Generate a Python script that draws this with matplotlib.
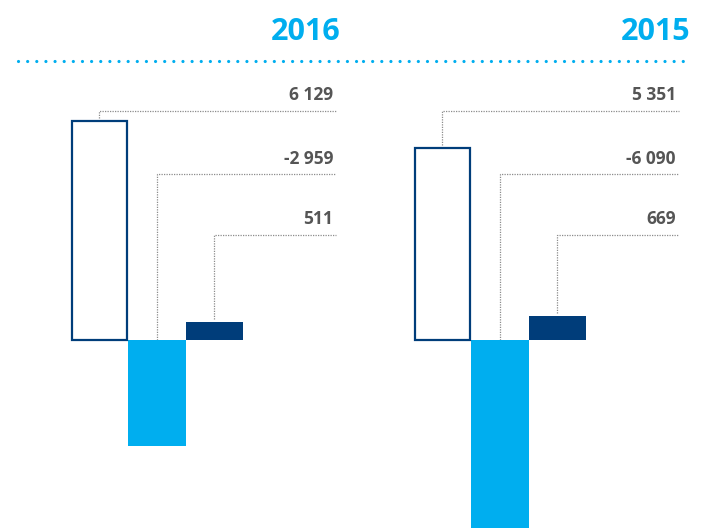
import matplotlib.pyplot as plt

# Values per year: opening balance, change, closing balance
years = ["2016", "2015"]
opening = [6129, 5351]
change = [-2959, -6090]
closing = [511, 669]

NAVY = "#003D7A"
CYAN = "#00AEEF"
GREY_TXT = "#555555"
GREY_LINE = "#8C8C8C"

W, H = 701, 528
fig = plt.figure(figsize=(W / 100, H / 100), dpi=100)
ax = fig.add_axes([0, 0, 1, 1])
ax.axis("off")

# vertical scale: data units -> pixels, zero baseline at 340 px from the top
px_per_unit = 0.0358
zero_px = 340
ax.set_xlim(0, W)
ax.set_ylim(-(H - zero_px) / px_per_unit, zero_px / px_per_unit)


def ypix(p):
    """Convert a pixel row (from top) to a data y value."""
    return (zero_px - p) / px_per_unit


bar_w = 57.5
panel_left = [70.5, 413.5]
label_right = [336, 679]
title_right = [341, 690]
leader_rows = [110.5, 173.5, 234.5]
gap = 3 / px_per_unit

fs_title = 22
fs_label = 12.5
font = "Open Sans"

# dotted header rule
for x0, x1 in [(18, 360), (363, 690)]:
    ax.plot([x0, x1], [ypix(61)] * 2, color=CYAN, lw=2.3,
            ls=(0, (0.01, 2.85)), dash_capstyle="round", solid_capstyle="round")

for i, yr in enumerate(years):
    left = panel_left[i]
    vals = [opening[i], change[i], closing[i]]

    ax.text(title_right[i], ypix(40), yr, ha="right", va="baseline",
            fontsize=fs_title, fontweight="bold", color=CYAN, family=font)

    # opening balance: outlined bar
    ax.bar(left + 1, vals[0], width=bar_w - 2, bottom=0, align="edge",
           facecolor="white", edgecolor=NAVY, linewidth=1.6, zorder=3)
    # change: light blue bar (starts where first ends)
    ax.bar(left + bar_w, vals[1], width=bar_w, bottom=0, align="edge",
           color=CYAN, linewidth=0, zorder=2)
    # closing balance: navy bar
    ax.bar(left + 2 * bar_w, vals[2], width=bar_w, bottom=0, align="edge",
           color=NAVY, linewidth=0, zorder=2)

    for k, v in enumerate(vals):
        cx = left + (k + 0.5) * bar_w
        row = leader_rows[k]
        end = v + gap if v > 0 else 0
        ax.plot([cx, cx, label_right[i]], [end, ypix(row), ypix(row)],
                color=GREY_LINE, lw=0.9, ls=(0, (1, 1)), zorder=1)
        txt = f"{v:,}".replace(",", " ")
        ax.text(label_right[i] - 3, ypix(row - 10), txt, ha="right",
                va="baseline", fontsize=fs_label, fontweight="bold",
                color=GREY_TXT, family=font)

fig.savefig("out.png", dpi=100)
